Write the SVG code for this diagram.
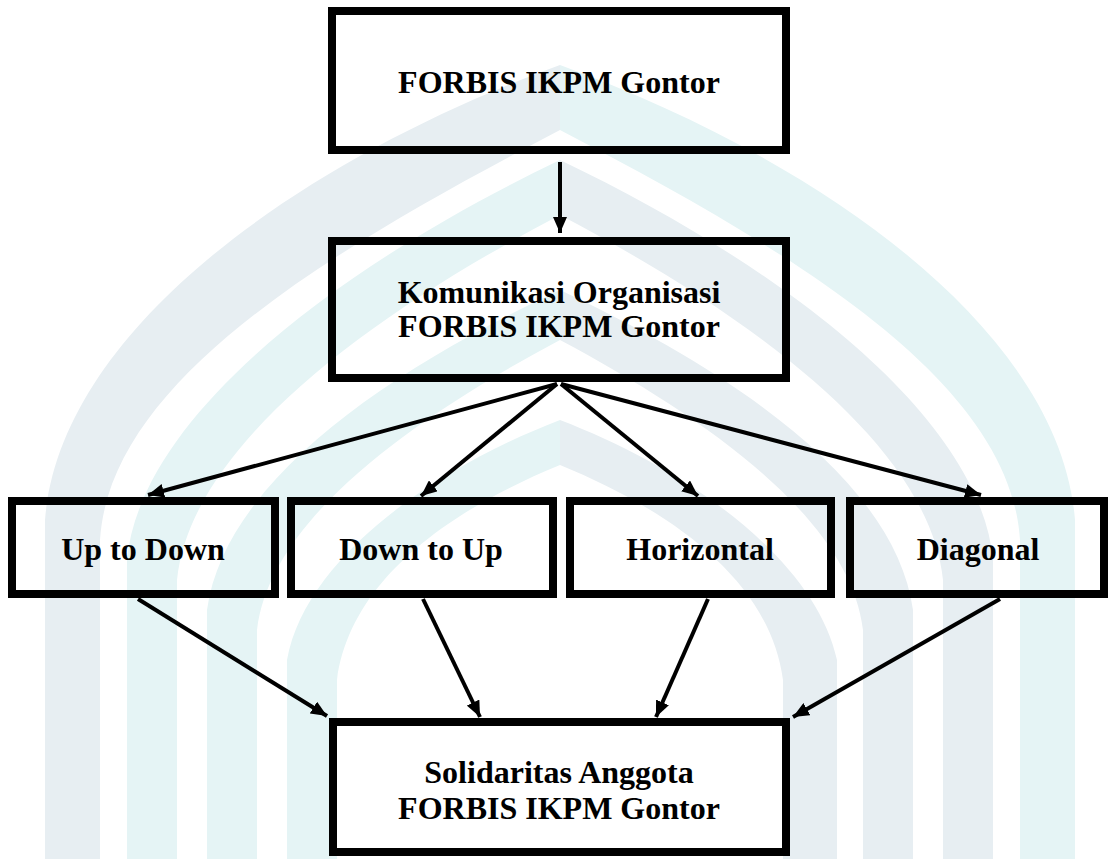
<svg xmlns="http://www.w3.org/2000/svg" width="1111" height="859" viewBox="0 0 1111 859">
<style>
.box{fill:none;stroke:#000;stroke-width:8}
.lbl{font-family:"Liberation Serif","Times New Roman",serif;font-weight:bold;font-size:32px;fill:#000;text-anchor:middle}
.wt{fill:#e5f4f5}
.wg{fill:#e7eef2}
.cn{stroke:#000;stroke-width:4;fill:none;marker-end:url(#ah)}
</style>
<defs>
<marker id="ah" viewBox="0 0 16 14" refX="16" refY="7" markerWidth="16" markerHeight="14" markerUnits="userSpaceOnUse" orient="auto">
<path d="M0,0 L16,7 L0,14 z" fill="#000"/>
</marker>
</defs>
<rect width="1111" height="859" fill="#fff"/>
<g id="watermark">
<path class="wg" d="M45,859 L45,520 C60,330 300,160 560,65 L560,130 C330,250 110,380 100,540 L100,859 z"/>
<path class="wt" d="M1075,859 L1075,520 C1060,330 820,160 560,65 L560,130 C790,250 1010,380 1020,540 L1020,859 z"/>
<path class="wt" d="M127,859 L127,560 C140,420 330,270 560,160 L560,215 C360,320 190,450 177,580 L177,859 z"/>
<path class="wg" d="M993,859 L993,560 C980,420 790,270 560,160 L560,215 C760,320 930,450 943,580 L943,859 z"/>
<path class="wt" d="M207,859 L207,610 C225,480 390,370 560,290 L560,340 C410,420 270,520 257,630 L257,859 z"/>
<path class="wg" d="M913,859 L913,610 C895,480 730,370 560,290 L560,340 C710,420 850,520 863,630 L863,859 z"/>
<path class="wt" d="M287,859 L287,660 C305,560 430,470 560,420 L560,465 C450,510 350,580 337,680 L337,859 z"/>
<path class="wg" d="M837,859 L837,660 C815,560 690,470 560,420 L560,465 C670,510 770,580 783,680 L783,859 z"/>
</g>
<g id="connectors">
<path class="cn" d="M560,162 L560,233"/>
<path class="cn" d="M557,384 L148,495"/>
<path class="cn" d="M557,384 L421,496"/>
<path class="cn" d="M561,384 L698,496"/>
<path class="cn" d="M561,384 L981,495"/>
<path class="cn" d="M138,599 L327,716"/>
<path class="cn" d="M423,599 L480,717"/>
<path class="cn" d="M708,599 L656,717"/>
<path class="cn" d="M1000,599 L793,717"/>
</g>
<g id="n-forbis">
<rect class="box" x="332" y="11" width="454" height="139"/>
<text class="lbl" x="559" y="93">FORBIS IKPM Gontor</text>
</g>
<g id="n-komunikasi">
<rect class="box" x="332" y="241" width="454" height="137"/>
<text class="lbl" x="559" y="303">Komunikasi Organisasi</text>
<text class="lbl" x="559" y="337">FORBIS IKPM Gontor</text>
</g>
<g id="n-updown">
<rect class="box" x="12" y="501" width="263" height="93"/>
<text class="lbl" x="143" y="560">Up to Down</text>
</g>
<g id="n-downup">
<rect class="box" x="291" y="501" width="262" height="93"/>
<text class="lbl" x="421" y="560">Down to Up</text>
</g>
<g id="n-horizontal">
<rect class="box" x="570" y="501" width="261" height="93"/>
<text class="lbl" x="700" y="560">Horizontal</text>
</g>
<g id="n-diagonal">
<rect class="box" x="850" y="501" width="254" height="93"/>
<text class="lbl" x="978" y="560">Diagonal</text>
</g>
<g id="n-solidaritas">
<rect class="box" x="333" y="722" width="453" height="130"/>
<text class="lbl" x="559" y="783">Solidaritas Anggota</text>
<text class="lbl" x="559" y="819">FORBIS IKPM Gontor</text>
</g>
</svg>
